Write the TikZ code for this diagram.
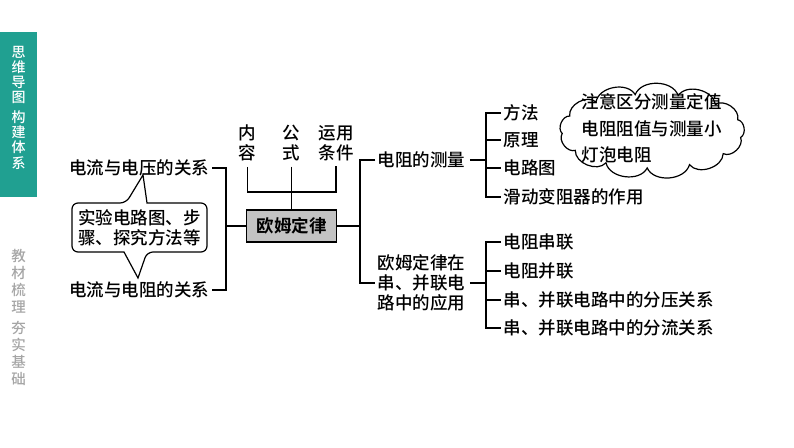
\documentclass[tikz,border=0pt]{standalone}
\usepackage{fontspec}
\setmainfont{Noto Sans CJK SC}[UprightFont={* Medium},BoldFont={* Bold}]
\definecolor{sidebar}{RGB}{32,160,145}
\definecolor{sidegray}{RGB}{165,165,165}
\definecolor{boxgray}{RGB}{195,195,195}
\usetikzlibrary{calc}

\begin{document}
\begin{tikzpicture}[x=1pt,y=-1pt,line width=1.4pt,
    txt/.style={inner sep=0pt,font=\fontsize{17.5}{20}\selectfont,align=left},
    lawbox/.style={draw,line width=1.8pt,fill=boxgray,minimum width=90pt,minimum height=32pt,
      inner sep=0pt,font=\fontsize{17.5}{20}\selectfont\bfseries}]
  \useasboundingbox (0,0) rectangle (794,447);
  % side bar
  \fill[sidebar] (0,32) rectangle (37,197);
  \node[white,inner sep=0pt,align=center,font=\fontsize{14}{15.3}\selectfont] (side) at (18.5,107.5)
    {思\\维\\导\\图\\[4pt]构\\建\\体\\系};
  \node[sidegray,inner sep=0pt,align=center,font=\fontsize{14.5}{17}\selectfont] (sidedown) at (18.5,317.5)
    {教\\材\\梳\\理\\[4pt]夯\\实\\基\\础};
  % centre box
  \node[lawbox] (ohm) at (291.5,226) {欧姆定律};
  % left branch
  \node[txt,anchor=east] (uv) at (210,168) {电流与电压的关系};
  \node[txt,anchor=east] (ur) at (210,290) {电流与电阻的关系};
  \coordinate (lj) at (226,226);
  \draw ([xshift=2pt]uv.east) -| (lj) |- ([xshift=2pt]ur.east);
  \draw (lj) -- (ohm.west);
  % callout
  \node[txt,align=center] (tip) at (139.5,228) {实验电路图、步\\骤、探究方法等};
  \draw[line width=1.2pt,rounded corners=6pt] (72,203) -- (126,203) [sharp corners] -- (143,175)
    -- (147,203) [rounded corners=6pt] -- (207,203) -- (207,252) -- (147,252) [sharp corners]
    -- (138,278) -- (124,252) [rounded corners=6pt] -- (72,252) -- cycle;
  % top labels
  \node[txt,align=center] (nr) at (247.5,143) {内\\容};
  \node[txt,align=center] (gs) at (291.5,143) {公\\式};
  \node[txt,align=center] (yt) at (336,143) {运用\\条件};
  \coordinate (tj) at (291.5,192);
  \draw ([yshift=-5pt]nr.south) |- (tj) -| ([yshift=-5pt]yt.south);
  \draw ([yshift=-5pt]gs.south) -- (ohm.north);
  % right branch
  \node[txt,anchor=west] (rm) at (377,160) {电阻的测量};
  \node[txt,anchor=west] (app) at (377,283) {欧姆定律在\\串、并联电\\路中的应用};
  \coordinate (rj) at (360,226);
  \draw (ohm.east) -- (rj);
  \draw ([xshift=-2pt]rm.west) -| (rj) |- ([xshift=-2pt]app.west);
  % measuring
  \coordinate (mj) at (486,160);
  \draw ([xshift=4pt]rm.east) -- (mj);
  \foreach \t/\y [count=\i] in {方法/113,原理/140,电路图/168,滑动变阻器的作用/197}
    \node[txt,anchor=west] (m\i) at (503,\y) {\t};
  \draw ([xshift=-2pt]m1.west) -| (mj) |- ([xshift=-2pt]m4.west);
  \foreach \i in {2,3}
    \draw (mj |- m\i.west) -- ([xshift=-2pt]m\i.west);
  % series and parallel
  \coordinate (aj) at (486,283);
  \draw ([xshift=4pt]app.east) -- (aj);
  \foreach \t/\y [count=\i] in {电阻串联/242,电阻并联/271,串、并联电路中的分压关系/300,串、并联电路中的分流关系/328}
    \node[txt,anchor=west] (a\i) at (503,\y) {\t};
  \draw ([xshift=-2pt]a1.west) -| (aj) |- ([xshift=-2pt]a4.west);
  \foreach \i in {2,3}
    \draw (aj |- a\i.west) -- ([xshift=-2pt]a\i.west);
  % note cloud
  \foreach \i in {0,...,13}
    \coordinate (cl\i) at ({652+90*cos(\i*360/13+10)},{131+37*sin(\i*360/13+10)});
  \draw[line width=1.2pt,fill=white] (cl0) \foreach \i in {1,...,13} { to[bend left=70] (cl\i) } -- cycle;
  \node[txt,anchor=west,font=\fontsize{17.5}{26.5}\selectfont] (note) at (581,128.5)
    {注意区分测量定值\\电阻阻值与测量小\\灯泡电阻};
\end{tikzpicture}
\end{document}
